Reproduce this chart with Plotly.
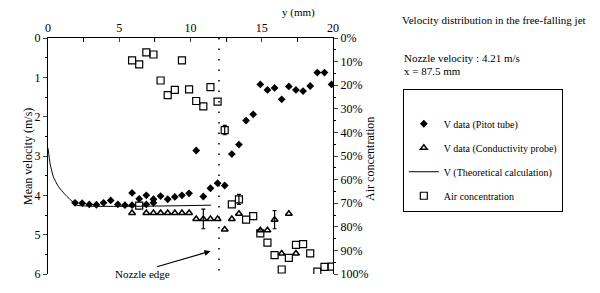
import plotly.graph_objects as go

# ---- data ----
pitot_y = [1.9, 2.4, 2.9, 3.4, 3.9, 4.4, 4.9, 5.4, 5.9, 5.9, 6.4, 6.9, 6.9, 7.4, 7.4, 7.9, 8.4, 8.9, 9.4, 9.9,
           10.4, 10.9, 11.4, 11.9, 12.4, 12.9, 13.4, 13.9, 14.4, 14.9, 15.4, 15.9, 16.4, 16.9, 17.4, 17.9,
           18.4, 18.9, 19.4, 19.9]
pitot_v = [4.19, 4.20, 4.23, 4.24, 4.19, 4.13, 4.23, 4.25, 3.94, 4.25, 4.09, 4.00, 4.23, 4.10, 4.19, 4.02, 4.10, 4.04, 4.00, 3.95,
           2.86, 4.03, 3.82, 3.69, 3.75, 2.95, 2.71, 2.10, 1.94, 1.18, 1.32, 1.27, 1.56, 1.23, 1.32, 1.35,
           1.22, 0.88, 0.88, 1.18]

cond_y = [5.9, 6.9, 7.4, 7.9, 8.4, 8.9, 9.4, 9.9, 10.4, 10.9, 11.4, 11.9, 12.4, 12.9, 13.4, 14.9, 15.4, 15.9, 16.4, 16.9, 17.4]
cond_v = [4.45, 4.45, 4.45, 4.45, 4.45, 4.45, 4.45, 4.45, 4.60, 4.60, 4.60, 4.60, 4.87, 4.60, 4.47, 4.89, 4.89, 4.62, 5.48, 4.47, 5.48]

theo_y = [0.0, 0.15, 0.37, 0.72, 1.2, 1.8, 2.0, 11.45]
theo_v = [2.80, 3.20, 3.52, 3.77, 3.98, 4.19, 4.25, 4.25]

air_y = [5.9, 6.4, 6.9, 7.4, 7.9, 8.4, 8.9, 9.4, 9.9, 10.4, 10.9, 11.4, 11.9, 12.4, 6.4,
         12.9, 13.4, 13.9, 14.4, 14.9, 15.4, 15.9, 16.4, 16.9, 17.4, 17.9, 18.4, 18.9, 19.4, 19.9]
air_c = [9.5, 11.2, 6.1, 7.0, 18.0, 24.2, 22.0, 9.5, 21.8, 26.7, 29.0, 20.8, 27.0, 39.0, 71.0,
         70.5, 68.4, 77.0, 75.5, 82.8, 86.7, 92.0, 98.1, 93.2, 87.7, 87.3, 91.3, 99.0, 97.0, 96.9]

# error bars
cond_err_y = [10.9, 15.9]
cond_err_v = [4.60, 4.62]
cond_err = [0.25, 0.23]
air_err_y = [12.4, 13.4]
air_err_c = [39.0, 68.4]
air_err = [2.0, 2.1]

nozzle_edge = 12.0

x_ticks = [0, 5, 10, 15, 20]
v_ticks = [0, 1, 2, 3, 4, 5, 6]
c_ticks = [0, 10, 20, 30, 40, 50, 60, 70, 80, 90, 100]

FONT = "Liberation Serif, Times New Roman, DejaVu Serif, serif"

fig = go.Figure()

fig.add_trace(go.Scatter(x=pitot_y, y=pitot_v, mode="markers", name="V data (Pitot tube)",
                         marker=dict(symbol="diamond", size=6, color="black"),
                         legendgroup="a", legendrank=1))
fig.add_trace(go.Scatter(x=cond_y, y=cond_v, mode="markers", name="V data (Conductivity probe)",
                         marker=dict(symbol="triangle-up-open", size=6, color="black", line=dict(width=1.5)),
                         legendgroup="b", legendrank=2))
fig.add_trace(go.Scatter(x=cond_err_y, y=cond_err_v, mode="markers", showlegend=False,
                         marker=dict(size=1, color="rgba(0,0,0,0)"),
                         error_y=dict(type="data", array=cond_err, color="black", thickness=1.2, width=2)))
fig.add_trace(go.Scatter(x=theo_y, y=theo_v, mode="lines", name="V (Theoretical calculation)",
                         line=dict(color="black", width=1, shape="spline", smoothing=0.6),
                         legendgroup="c", legendrank=3))
fig.add_trace(go.Scatter(x=air_y, y=air_c, mode="markers", name="Air concentration", yaxis="y2",
                         marker=dict(symbol="square-open", size=7, color="black", line=dict(width=1.2)),
                         legendgroup="d", legendrank=4))
fig.add_trace(go.Scatter(x=air_err_y, y=air_err_c, mode="markers", showlegend=False, yaxis="y2",
                         marker=dict(size=1, color="rgba(0,0,0,0)"),
                         error_y=dict(type="data", array=air_err, color="black", thickness=1.2, width=2)))

fig.add_shape(type="line", x0=nozzle_edge, x1=nozzle_edge, y0=0, y1=6, xref="x", yref="y",
              line=dict(color="black", width=1.5, dash="1.5px,9px"))

axis_font = dict(family=FONT, size=12, color="black")

fig.update_layout(
    width=600, height=293,
    margin=dict(l=48, r=267, t=38, b=13),
    paper_bgcolor="white", plot_bgcolor="white",
    font=dict(family=FONT, size=11, color="black"),
    showlegend=True,
    legend=dict(x=1.245, y=0.785, xanchor="left", yanchor="top",
                bordercolor="black", borderwidth=1, bgcolor="white",
                font=dict(family=FONT, size=10, color="black"),
                title=dict(text=" ", font=dict(size=15)),
                tracegroupgap=5, itemwidth=30),
    xaxis=dict(range=[0, 20], side="top", tickvals=x_ticks, ticks="inside", ticklen=4,
               showline=True, linecolor="black", linewidth=1, mirror=False, showgrid=False,
               zeroline=False, tickfont=axis_font,
               minor=dict(dtick=2.5, ticks="inside", ticklen=4, tickcolor="black")),
    yaxis=dict(range=[6, 0], tickvals=v_ticks, ticks="outside", ticklen=4,
               showline=True, linecolor="black", linewidth=1, showgrid=False, zeroline=False,
               tickfont=axis_font,
               minor=dict(dtick=0.5, ticks="outside", ticklen=2, tickcolor="black")),
    yaxis2=dict(range=[100, 0], overlaying="y", side="right", tickvals=c_ticks,
                ticktext=[f"{c}%" for c in c_ticks], ticks="outside", ticklen=4,
                showline=True, linecolor="black", linewidth=1, showgrid=False, zeroline=False,
                tickfont=axis_font,
                minor=dict(dtick=5, ticks="outside", ticklen=2, tickcolor="black")),
)

ann = [
    dict(text="y (mm)", x=298, y=12),
    dict(text="Velocity distribution in the free-falling jet", x=400, y=20, xanchor="left"),
    dict(text="Nozzle velocity : 4.21 m/s", x=402, y=59, xanchor="left"),
    dict(text="x = 87.5 mm", x=402, y=72, xanchor="left"),
    dict(text="Nozzle edge", x=142, y=280),
]
for a in ann:
    fig.add_annotation(text=a["text"], xref="paper", yref="paper",
                       x=(a["x"] - 48) / 285, y=(280 - a["y"]) / 242,
                       xanchor=a.get("xanchor", "center"), yanchor="middle",
                       showarrow=False, font=dict(family=FONT, size=11, color="black"))

fig.add_annotation(text="Mean velocity (m/s)", xref="paper", yref="paper",
                   x=(19 - 48) / 285, y=(280 - 160) / 242, textangle=-90,
                   showarrow=False, font=dict(family=FONT, size=12, color="black"))
fig.add_annotation(text="Air concentration", xref="paper", yref="paper",
                   x=(379 - 48) / 285, y=(280 - 162) / 242, textangle=-90,
                   showarrow=False, font=dict(family=FONT, size=12, color="black"))

# arrow for nozzle edge
fig.add_annotation(text="", x=11.4, y=5.42, xref="x", yref="y", ax=-55, ay=16,
                   showarrow=True, arrowhead=2, arrowsize=1, arrowwidth=1.2, arrowcolor="black")

fig.write_html("out.html", config={"displayModeBar": False},
               post_script="document.body.style.margin='0px';document.body.style.overflow='hidden';")
